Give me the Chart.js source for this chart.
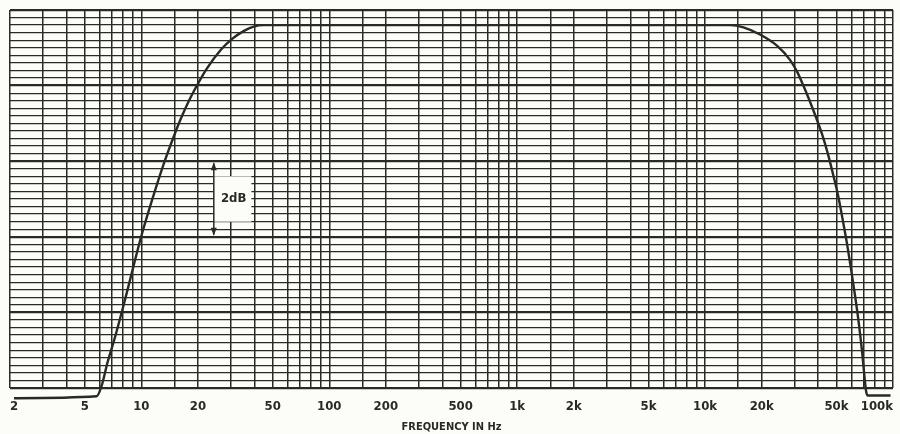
<!DOCTYPE html>
<html lang="en">
<head>
    <meta charset="UTF-8">
    <title>Frequency response</title>
    <script src="https://cdn.jsdelivr.net/npm/chart.js"></script>
    <style>
        html, body { margin: 0; padding: 0; background: #fcfcf8; }
        #wrap { width: 900px; height: 434px; position: relative; }
    </style>
</head>
<body>
    <div id="wrap"><canvas id="responseChart"></canvas></div>

    <script>
        const curveFreq = [2.1, 5.78, 6.14, 6.61, 7.19, 8.2, 10.0, 11.7, 13.2, 15.0, 16.3, 18.0, 20.0, 22.3, 26.5, 30.3, 35.0, 39.6, 44.8,
                           1000, 13600, 16000, 19600, 24200, 28300, 31000, 33200, 36000, 39000, 42000, 45000, 48000, 51000,
                           54000, 57000, 60000, 63000, 66000, 68500, 70500, 72000, 73500, 97000];
        const curveDb = [-9.87, -9.82, -9.55, -8.92, -8.31, -7.25, -5.58, -4.45, -3.65, -2.90, -2.45, -1.98, -1.55, -1.15, -0.65, -0.37, -0.16, -0.04, 0,
                         0, 0, -0.06, -0.25, -0.55, -0.92, -1.25, -1.58, -2.0, -2.45, -2.9, -3.4, -3.95, -4.5,
                         -5.15, -5.8, -6.5, -7.2, -7.95, -8.65, -9.3, -9.7, -9.8, -9.8];

        // vertical rulings of the log paper
        const xGridValues = [2, 3, 4, 5, 6, 7, 8, 9,
                             10, 15, 20, 30, 40, 50, 60, 70, 80, 90,
                             100, 150, 200, 300, 400, 500, 600, 700, 800, 900,
                             1000, 1500, 2000, 3000, 4000, 5000, 6000, 7000, 8000, 9000,
                             10000, 15000, 20000, 30000, 40000, 50000, 60000, 70000, 80000, 90000, 100000];
        const xLabelValues = [2, 5, 10, 20, 50, 100, 200, 500, 1000, 2000, 5000, 10000, 20000, 50000, 100000];
        const xLabelTexts = ['2', '5', '10', '20', '50', '100', '200', '500', '1k', '2k', '5k', '10k', '20k', '50k', '100k'];

        const yMin = -9.6;
        const yMax = 0.4;
        const yStep = 0.2;

        // the "2dB" scale marker
        const markerFreq = 24.3;
        const markerTopDb = -3.6;
        const markerBottomDb = -5.6;
        const markerBoxFreqEnd = 38.5;
        const markerBoxTopDb = -4.0;
        const markerBoxBottomDb = -5.2;
        const markerLabel = '2dB';
        const markerLabelFreq = 31;

        const ink = '#2a2a24';
        const paper = '#fcfcf8';
        const fontFamily = "'Liberation Sans Narrow', 'DejaVu Sans Condensed', 'Roboto', sans-serif";

        const markerPlugin = {
            id: 'dbMarker',
            beforeDatasetsDraw(chart) {
                const { ctx, scales: { x, y } } = chart;
                const lx = x.getPixelForValue(markerFreq);
                const rx = x.getPixelForValue(markerBoxFreqEnd);
                const by1 = y.getPixelForValue(markerBoxTopDb);
                const by2 = y.getPixelForValue(markerBoxBottomDb);
                const ay1 = y.getPixelForValue(markerTopDb);
                const ay2 = y.getPixelForValue(markerBottomDb);

                ctx.save();
                ctx.fillStyle = paper;
                ctx.fillRect(lx, by1, rx - lx, by2 - by1);

                ctx.strokeStyle = ink;
                ctx.lineWidth = 1.5;
                ctx.beginPath();
                ctx.moveTo(lx, ay1 + 2);
                ctx.lineTo(lx, ay2 - 2);
                ctx.stroke();

                ctx.fillStyle = ink;
                ctx.beginPath();
                ctx.moveTo(lx, ay1 + 1);
                ctx.lineTo(lx - 3, ay1 + 9);
                ctx.lineTo(lx + 3, ay1 + 9);
                ctx.closePath();
                ctx.fill();
                ctx.beginPath();
                ctx.moveTo(lx, ay2 - 1);
                ctx.lineTo(lx - 3, ay2 - 9);
                ctx.lineTo(lx + 3, ay2 - 9);
                ctx.closePath();
                ctx.fill();

                ctx.font = 'bold 13px ' + fontFamily;
                ctx.textAlign = 'center';
                ctx.textBaseline = 'middle';
                ctx.fillText(markerLabel, x.getPixelForValue(markerLabelFreq), (by1 + by2) / 2);
                ctx.restore();
            }
        };

        function drawResponseChart() {
            Chart.defaults.font.family = fontFamily;
            Chart.defaults.color = ink;

            const points = curveFreq.map((f, i) => ({ x: f, y: curveDb[i] }));
            const ctx = document.getElementById('responseChart').getContext('2d');

            new Chart(ctx, {
                type: 'line',
                data: {
                    datasets: [{
                        data: points,
                        borderColor: ink,
                        borderWidth: 2.4,
                        pointRadius: 0,
                        fill: false,
                        cubicInterpolationMode: 'monotone',
                        clip: false
                    }]
                },
                options: {
                    responsive: true,
                    maintainAspectRatio: false,
                    animation: false,
                    layout: { padding: { left: 10, right: 7, top: 10, bottom: 0 } },
                    plugins: {
                        legend: { display: false },
                        tooltip: { enabled: false }
                    },
                    scales: {
                        x: {
                            type: 'logarithmic',
                            min: 2,
                            max: 100000,
                            afterBuildTicks: (scale) => {
                                scale.ticks = xGridValues.map(v => ({ value: v }));
                            },
                            afterFit: (scale) => {
                                scale.paddingLeft = 0;
                                scale.paddingRight = 0;
                                scale.height = 46;
                            },
                            border: { display: false },
                            grid: {
                                color: ink,
                                lineWidth: 1.5,
                                drawTicks: false
                            },
                            ticks: {
                                autoSkip: false,
                                maxRotation: 0,
                                minRotation: 0,
                                align: 'inner',
                                padding: 12,
                                font: { size: 13, weight: 'bold', lineHeight: 1 },
                                callback: (value) => {
                                    const i = xLabelValues.indexOf(value);
                                    return i >= 0 ? xLabelTexts[i] : '';
                                }
                            },
                            title: {
                                display: true,
                                text: 'FREQUENCY IN Hz',
                                font: { size: 11, weight: 'bold', lineHeight: 1 },
                                padding: { top: 8, bottom: 1 }
                            }
                        },
                        y: {
                            type: 'linear',
                            min: yMin,
                            max: yMax,
                            border: { display: false },
                            grid: {
                                color: ink,
                                drawTicks: false,
                                lineWidth: (c) => (c.index % 10 === 0 ? 2.3 : 1.3)
                            },
                            ticks: { display: false, stepSize: yStep }
                        }
                    }
                },
                plugins: [markerPlugin]
            });
        }

        document.addEventListener('DOMContentLoaded', drawResponseChart);
    </script>
</body>
</html>
